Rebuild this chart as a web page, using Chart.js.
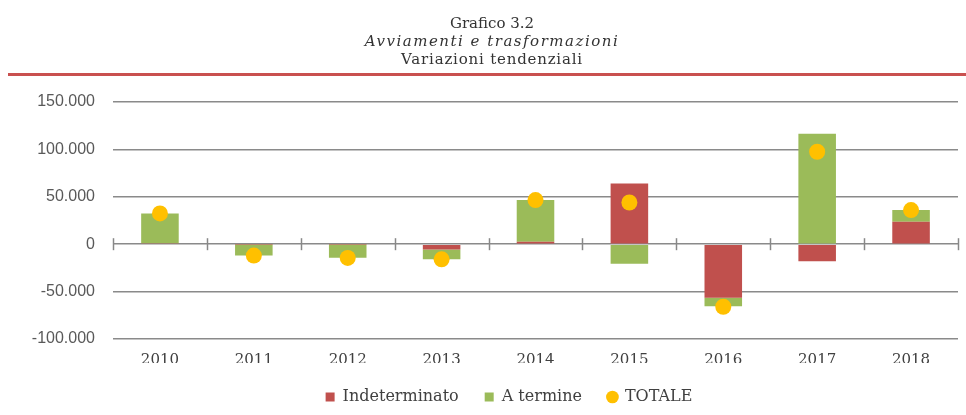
<!DOCTYPE html>
<html>
<head>
<meta charset="utf-8">
<script src="https://cdn.jsdelivr.net/npm/chart.js@4"></script>
<style>
  html, body { margin: 0; padding: 0; background: #fff; }
  #wrap { position: relative; width: 966px; height: 415px; overflow: hidden; }
  #title { position: absolute; left: 9px; top: 14px; width: 966px; text-align: center;
           font-family: "DejaVu Serif", serif; font-size: 15px; line-height: 18px; color: #333; }
  #title .it { font-style: italic; letter-spacing: 1.5px; }
  #title .l3 { letter-spacing: 0.8px; }
  #rule { position: absolute; left: 8px; right: 0; top: 73px; height: 3px; background: #C9504F; }
  canvas { position: absolute; left: 0; top: 0; }
</style>
</head>
<body>
<div id="wrap">
  <canvas id="c" width="966" height="415"></canvas>
  <div id="title">
    <div>Grafico 3.2</div>
    <div class="it">Avviamenti e trasformazioni</div>
    <div class="l3">Variazioni tendenziali</div>
  </div>
  <div id="rule"></div>
</div>
<script>
const categories = ["2010", "2011", "2012", "2013", "2014", "2015", "2016", "2017", "2018"];
const indeterminato = [1000, -300, -400, -5600, 2500, 64000, -56500, -18000, 23600];
const aTermine = [31500, -11500, -14000, -10300, 44000, -20500, -9000, 116400, 12400];
const totale = [32500, -12000, -14500, -16000, 46500, 44000, -66000, 97500, 36000];
const seriesNames = ["Indeterminato", "A termine", "TOTALE"];
const yTicks = { min: -100000, max: 150000, step: 50000 };

function fmt(v) {
  const s = Math.abs(v).toString().replace(/\B(?=(\d{3})+(?!\d))/g, ".");
  return (v < 0 ? "-" : "") + s;
}

const zeroTicks = {
  id: "zeroTicks",
  beforeDatasetsDraw(chart) {
    const x = chart.scales.x, y = chart.scales.y;
    const y0 = y.getPixelForValue(0);
    const n = categories.length;
    const ctx = chart.ctx;
    ctx.save();
    ctx.strokeStyle = "#888";
    ctx.lineWidth = 1.5;
    for (let i = 0; i <= n; i++) {
      let px;
      if (i === 0) px = x.left;
      else if (i === n) px = x.right;
      else px = (x.getPixelForValue(i - 1) + x.getPixelForValue(i)) / 2;
      px = Math.round(px) + 0.5;
      ctx.beginPath();
      ctx.moveTo(px, y0 - 6);
      ctx.lineTo(px, y0 + 6);
      ctx.stroke();
    }
    ctx.restore();
  }
};

const legendShift = {
  id: "legendShift",
  afterLayout(chart) {
    if (chart.legend) { chart.legend.left += 28; chart.legend.right += 28; }
  }
};

new Chart(document.getElementById("c"), {
  data: {
    labels: categories,
    datasets: [
      { type: "bar", label: seriesNames[0], data: indeterminato, backgroundColor: "#C0504D",
        stack: "s", order: 2, pointStyle: "rect", barPercentage: 0.4, categoryPercentage: 1 },
      { type: "bar", label: seriesNames[1], data: aTermine, backgroundColor: "#9BBB59",
        stack: "s", order: 2, pointStyle: "rect", barPercentage: 0.4, categoryPercentage: 1 },
      { type: "line", label: seriesNames[2], data: totale, showLine: false, stack: "t", order: 1,
        pointStyle: "circle", pointRadius: 8, pointHoverRadius: 8, borderWidth: 0,
        backgroundColor: "#FFC000", borderColor: "#FFC000", pointBorderWidth: 0 }
    ]
  },
  options: {
    responsive: false,
    animation: false,
    devicePixelRatio: 1,
    layout: { padding: { top: 102, right: 4, left: 0, bottom: 0 } },
    scales: {
      x: {
        stacked: true,
        offset: true,
        grid: { display: false, drawTicks: false },
        border: { display: false },
        ticks: { padding: 12, color: "#404040", font: { family: "DejaVu Serif", size: 15 } },
        afterFit(s) { s.height = 24; }
      },
      y: {
        stacked: true,
        min: yTicks.min, max: yTicks.max,
        grid: { color: "#8a8a8a", lineWidth: 1.5, drawTicks: false },
        border: { display: false },
        ticks: { stepSize: yTicks.step, padding: 18, color: "#595959",
                 font: { family: "Liberation Sans", size: 16 },
                 callback: v => fmt(v) },
        afterFit(s) { s.width = 113; }
      }
    },
    plugins: {
      tooltip: { enabled: false },
      legend: {
        position: "bottom",
        labels: {
          usePointStyle: true,
          boxWidth: 9, boxHeight: 9,
          padding: 26,
          color: "#404040",
          font: { family: "DejaVu Serif", size: 16 },
          sort: (a, b) => a.datasetIndex - b.datasetIndex
        }
      }
    }
  },
  plugins: [zeroTicks, legendShift]
});
</script>
</body>
</html>
